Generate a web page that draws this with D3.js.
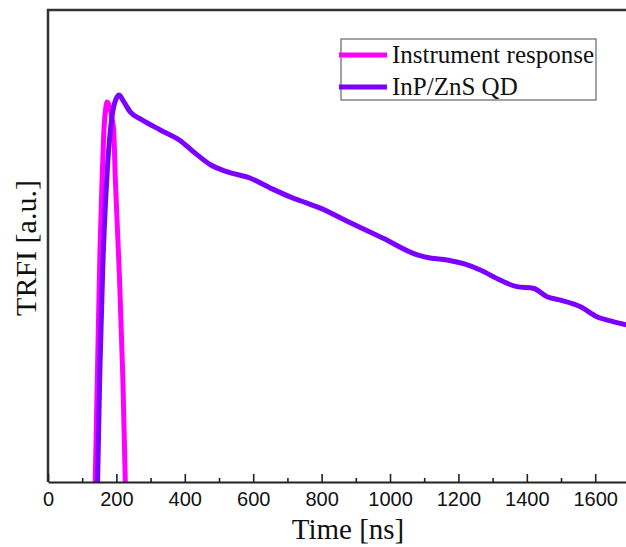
<!DOCTYPE html>
<html>
<head>
<meta charset="utf-8">
<script src="https://cdn.jsdelivr.net/npm/d3@7"></script>
<style>
  html, body { margin: 0; padding: 0; background: #fff; }
  svg { display: block; }
</style>
</head>
<body>
<div id="chart"></div>
<script>
(function() {
  'use strict';

  // Instrument response trace (time in ns, intensity normalised)
  var irfTime = [138, 145, 152, 158, 163, 168, 173, 180, 187, 192, 197, 208, 219, 226];
  var irfValue = [0, 0.3, 0.6, 0.78, 0.9, 0.96, 0.982, 0.97, 0.94, 0.91, 0.78, 0.55, 0.264, 0];

  // InP/ZnS QD decay trace
  var qdTime = [145, 152, 160, 168, 175, 185, 195, 208, 220, 241, 275, 328, 387, 430, 475, 523,
    592, 650, 708, 738, 796, 884, 980, 1080, 1117, 1167, 1220, 1264, 1322, 1371, 1419, 1459,
    1498, 1557, 1605, 1650, 1691];
  var qdValue = [0, 0.3, 0.55, 0.72, 0.83, 0.93, 0.98, 1.0, 0.985, 0.956, 0.936, 0.91, 0.882, 0.85, 0.82, 0.802,
    0.785, 0.76, 0.737, 0.727, 0.708, 0.67, 0.63, 0.587, 0.579, 0.574, 0.563, 0.548, 0.522, 0.505, 0.501, 0.479,
    0.47, 0.453, 0.427, 0.415, 0.406];

  var seriesNames = ['Instrument response', 'InP/ZnS QD'];
  var seriesColors = ['#ff00ff', '#7b00ff'];
  var xTickValues = d3.range(0, 1700, 100);

  var width = 626, height = 547;
  var margin = { left: 48, top: 10, bottom: 482 };

  var svg = d3.select('#chart').append('svg')
    .attr('width', width)
    .attr('height', height);

  var x = d3.scaleLinear().domain([0, 1690]).range([margin.left, width]);
  var y = d3.scaleLinear().domain([0, 1.22]).range([margin.bottom, margin.top]);

  svg.append('rect')
    .attr('x', 0).attr('y', 0).attr('width', width).attr('height', height)
    .style('fill', '#fff');

  svg.append('defs').append('clipPath').attr('id', 'plot-clip')
    .append('rect')
    .attr('x', margin.left).attr('y', margin.top)
    .attr('width', width - margin.left).attr('height', margin.bottom - margin.top);

  var line = d3.line()
    .x(function(d) { return x(d[0]); })
    .y(function(d) { return y(d[1]); })
    .curve(d3.curveMonotoneX);

  var traces = [
    d3.zip(irfTime, irfValue),
    d3.zip(qdTime, qdValue)
  ];

  var plot = svg.append('g').attr('clip-path', 'url(#plot-clip)');
  traces.forEach(function(pts, i) {
    plot.append('path')
      .datum(pts)
      .attr('d', line)
      .style('fill', 'none')
      .style('stroke', seriesColors[i])
      .style('stroke-width', 5)
      .style('stroke-linejoin', 'round');
  });

  // frame: left and top
  svg.append('path')
    .attr('d', 'M' + margin.left + ',' + margin.bottom + 'V' + margin.top + 'H' + width)
    .style('fill', 'none')
    .style('stroke', '#333')
    .style('stroke-width', 2.5);

  // x axis with inward ticks
  var xAxis = svg.append('g')
    .attr('transform', 'translate(0,' + margin.bottom + ')')
    .call(d3.axisBottom(x)
      .tickValues(xTickValues)
      .tickSizeInner(0).tickSizeOuter(0)
      .tickPadding(10)
      .tickFormat(function(d) { return d % 200 === 0 ? d : ''; }));

  xAxis.select('.domain').style('stroke', '#222').style('stroke-width', 2);
  xAxis.selectAll('.tick line')
    .attr('y2', function(d) { return d % 200 === 0 ? -8 : -4; })
    .style('stroke', '#222')
    .style('stroke-width', 1.6);
  xAxis.selectAll('.tick text')
    .style('font-family', '"Liberation Sans", Arial, sans-serif')
    .style('font-size', '20px')
    .style('fill', '#111');

  // axis titles
  svg.append('text')
    .attr('x', 348).attr('y', 539)
    .attr('text-anchor', 'middle')
    .style('font-family', '"Liberation Serif", "Times New Roman", serif')
    .style('font-size', '29px')
    .style('fill', '#111')
    .text('Time [ns]');

  svg.append('text')
    .attr('transform', 'translate(36,248) rotate(-90)')
    .attr('text-anchor', 'middle')
    .style('font-family', '"Liberation Serif", "Times New Roman", serif')
    .style('font-size', '30px')
    .style('fill', '#111')
    .text('TRFI [a.u.]');

  // legend
  var legend = svg.append('g');
  legend.append('rect')
    .attr('x', 341).attr('y', 39).attr('width', 255).attr('height', 61)
    .style('fill', '#fff')
    .style('stroke', '#666')
    .style('stroke-width', 1.2);

  seriesNames.forEach(function(name, i) {
    var ly = 55 + i * 32;
    legend.append('line')
      .attr('x1', 339).attr('x2', 387)
      .attr('y1', ly).attr('y2', ly)
      .style('stroke', seriesColors[i])
      .style('stroke-width', 5);
    legend.append('text')
      .attr('x', 392).attr('y', ly + 8)
      .style('font-family', '"Liberation Serif", "Times New Roman", serif')
      .style('font-size', '25px')
      .style('fill', '#111')
      .text(name);
  });
})();
</script>
</body>
</html>
